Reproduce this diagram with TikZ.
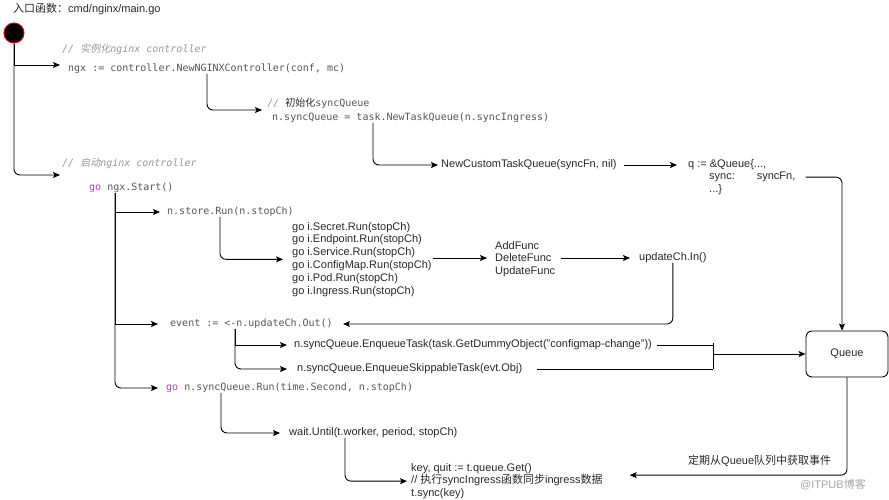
\documentclass[tikz,border=0pt]{standalone}
\usepackage{fontspec}
\setmainfont{Liberation Sans}
\newfontfamily\monof{DejaVu Sans Mono}
\newfontfamily\cjk{Noto Sans CJK SC}
\newfontfamily\cjkit[FakeSlant=0.2]{Noto Sans CJK SC}
\usetikzlibrary{arrows.meta,calc}
\definecolor{codec}{RGB}{85,85,85}
\definecolor{commc}{RGB}{150,150,150}
\definecolor{goc}{RGB}{175,60,175}
\definecolor{txt}{RGB}{40,40,40}
\definecolor{startred}{RGB}{200,0,0}
\tikzset{
  base/.style={inner sep=0pt, anchor=west, text height=7.5pt, text depth=2pt},
  code/.style={base, font=\monof\fontsize{10}{12}\selectfont, text=codec},
  comm/.style={base, font=\monof\itshape\fontsize{10}{12}\selectfont, text=commc},
  sans/.style={base, font=\fontsize{11}{12.7}\selectfont, text=txt},
  multi/.style={inner sep=0pt, anchor=north west, align=left, font=\fontsize{11}{12.8}\selectfont, text=txt},
  conn/.style={draw=black, line width=0.9pt},
  arr/.style={conn, -{Stealth[length=7pt,width=6pt,inset=1.5pt]}},
  rarr/.style={arr, rounded corners=6pt},
}
\begin{document}
\begin{tikzpicture}[x=1pt,y=-1pt]
\useasboundingbox (0,0) rectangle (889,499);
% texts
\node[sans] (title) at (13,10) {{\cjk 入口函数：}cmd/nginx/main.go};
\node[circle, fill=black, draw=startred, line width=1pt, minimum size=20pt, inner sep=0pt] (start) at (14,33) {};
\node[comm] (cm1) at (62,50) {// {\cjkit 实例化}nginx controller};
\node[code] (ngx) at (68,69) {ngx := controller.NewNGINXController(conf, mc)};
\node[code] (cm2) at (267,104) {{\color{commc}//} {\cjk\color{txt}初始化}syncQueue};
\node[code] (ntq) at (272,118) {n.syncQueue = task.NewTaskQueue(n.syncIngress)};
\node[sans] (nctq) at (441,165) {NewCustomTaskQueue(syncFn, nil)};
\node[multi] (qq) at (688,159) {q := \&Queue\{...,\\\hspace*{21pt}sync:\hspace*{22pt}syncFn,\\\hspace*{21pt}...\}};
\node[draw, line width=0.9pt, rounded corners=6pt, minimum width=82pt, minimum height=46pt, inner sep=0pt, font=\fontsize{11}{12.7}\selectfont, text=txt] (queue) at (847,354) {Queue};
\node[comm] (cm3) at (62,164) {// {\cjkit 启动}nginx controller};
\node[code] (gs) at (89,188) {{\color{goc}go} ngx.Start()};
\node[code] (store) at (167,212) {n.store.Run(n.stopCh)};
\node[multi] (inf) at (292,222) {go i.Secret.Run(stopCh)\\go i.Endpoint.Run(stopCh)\\go i.Service.Run(stopCh)\\go i.ConfigMap.Run(stopCh)\\go i.Pod.Run(stopCh)\\go i.Ingress.Run(stopCh)};
\node[multi] (funcs) at (495,241) {AddFunc\\DeleteFunc\\UpdateFunc};
\node[sans] (upd) at (639,258) {updateCh.In()};
\node[code] (evt) at (170,324) {event := <-n.updateCh.Out()};
\node[sans] (enq1) at (294,345) {n.syncQueue.EnqueueTask(task.GetDummyObject("configmap-change"))};
\node[sans] (enq2) at (297,369) {n.syncQueue.EnqueueSkippableTask(evt.Obj)};
\node[code] (run) at (166,388) {{\color{goc}go} n.syncQueue.Run(time.Second, n.stopCh)};
\node[sans] (wait) at (289,433) {wait.Until(t.worker, period, stopCh)};
\node[multi] (key) at (411,463) {key, quit := t.queue.Get()\\// {\cjk 执行}syncIngress{\cjk 函数同步}ingress{\cjk 数据}\\t.sync(key)};
\node[sans] (lbl) at (688,462) {{\cjk 定期从}Queue{\cjk 队列中获取事件}};
\node[sans, text=black!35] (wm) at (800,486) {@ITPUB{\cjk 博客}};
% connectors
\coordinate (pA) at (60,65);
\coordinate (pB) at (60,175);
\draw[arr] (start.south) |- (pA);
\draw[rarr] (start.south) |- (pB);
\coordinate (pC) at (262,110);
\draw[rarr] ([xshift=139pt]ngx.south west) |- (pC);
\draw[rarr] ([xshift=101pt]ntq.south west) |- ([xshift=-3pt]nctq.west);
\draw[arr] ([xshift=7pt]nctq.east) -- ([xshift=-11pt]nctq.east -| qq.west);
\draw[rarr] ([xshift=10pt]qq.east) -| ([xshift=-5pt]queue.north);
\draw[arr] ([xshift=26pt]gs.south west) |- ([xshift=-7pt]store.west);
\draw[arr] ([xshift=26pt]gs.south west) |- ([xshift=-12pt]evt.west);
\draw[rarr] ([xshift=26pt]gs.south west) |- ([xshift=-8pt]run.west);
\draw[rarr] ([xshift=53pt]store.south west) |- ([xshift=-9pt]inf.west);
\draw[arr] ([xshift=1pt]inf.east |- upd.west) -- ([xshift=-8pt]funcs.west |- upd.west);
\draw[arr] ([xshift=6pt]funcs.east |- upd.west) -- ([xshift=-9pt]upd.west);
\draw[rarr] (upd.south) |- ([xshift=10pt]evt.east);
\draw[arr] ([xshift=65pt]evt.south west) |- ([xshift=-7pt]enq1.west);
\draw[rarr] ([xshift=65pt]evt.south west) |- ([xshift=-10pt]enq2.west);
\coordinate (jn) at (713,354);
\draw[conn] ([xshift=5pt]enq1.east) -- (enq1.east -| jn);
\draw[conn] ([xshift=15pt]enq2.east) -- (enq2.east -| jn);
\draw[conn] ([yshift=2pt]enq1.east -| jn) -- (enq2.east -| jn);
\draw[arr] (jn) -- (queue.west);
\draw[rarr] ([xshift=55pt]run.south west) |- ([xshift=-9pt]wait.west);
\draw[rarr] ([xshift=56pt]wait.south west) |- ([xshift=-4pt]key.west);
\draw[rarr] (queue.south) |- ([xshift=27pt,yshift=6pt]key.east);
\end{tikzpicture}
\end{document}
